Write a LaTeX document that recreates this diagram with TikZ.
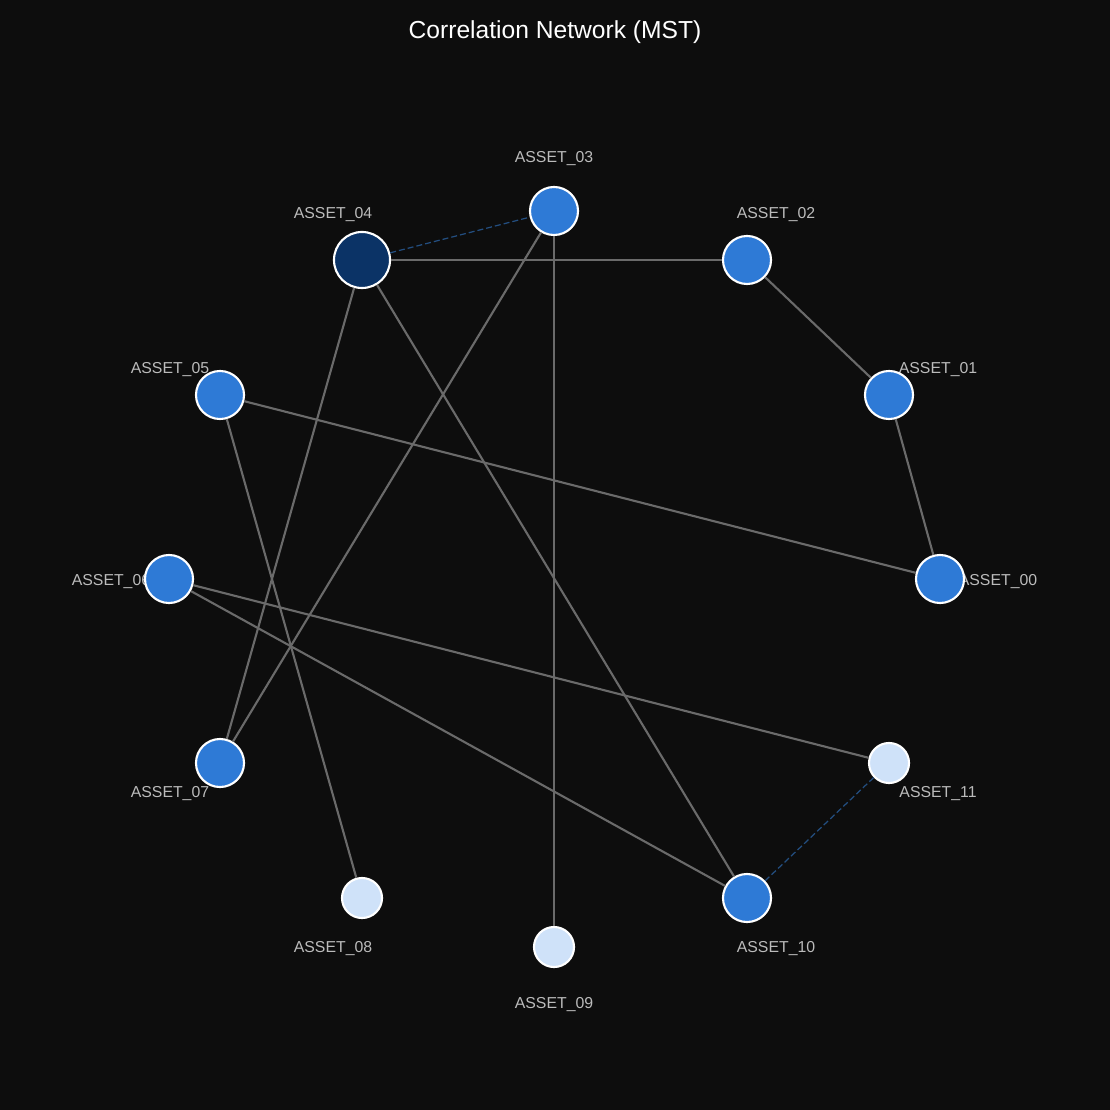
\documentclass[tikz,border=0pt]{standalone}
\usepackage{fontspec}
\setmainfont{Liberation Sans}
\usetikzlibrary{arrows.meta,positioning,calc}
\definecolor{BgBlack}{HTML}{0D0D0D}
\definecolor{AssetBlue}{HTML}{2E7AD6}
\definecolor{AssetNavy}{HTML}{0B3366}
\definecolor{AssetLight}{HTML}{CFE2F9}
\definecolor{EdgeGray}{HTML}{6A6A6A}
\definecolor{EdgeBlue}{HTML}{234E80}
\definecolor{LabelGray}{HTML}{BBBBBB}

\begin{document}
\begin{tikzpicture}[x=0.01cm,y=-0.01cm,
    asset/.style={circle, draw=white, line width=0.6pt, fill=AssetBlue, minimum size=0.48cm, inner sep=0pt},
    hub/.style={asset, fill=AssetNavy, minimum size=0.56cm},
    leaf/.style={asset, fill=AssetLight, minimum size=0.40cm},
    tag/.style={text=LabelGray, font=\fontsize{4.5}{5}\selectfont, inner sep=0pt},
    link/.style={EdgeGray, line width=0.6pt},
    weak/.style={EdgeBlue, line width=0.35pt, dash pattern=on 0.06cm off 0.03cm}]
        \fill[BgBlack] (0,0) rectangle (1110,1110);
        \node[text=white, font=\fontsize{7}{8}\selectfont] (title) at (555,32) {Correlation Network (MST)};
        % labels sit behind the circles
        \node[tag] (t00) at (998,582) {ASSET\_00};
        \node[tag] (t01) at (938,370) {ASSET\_01};
        \node[tag] (t02) at (776,215) {ASSET\_02};
        \node[tag] (t03) at (554,159) {ASSET\_03};
        \node[tag] (t04) at (333,215) {ASSET\_04};
        \node[tag] (t05) at (170,370) {ASSET\_05};
        \node[tag] (t06) at (111,582) {ASSET\_06};
        \node[tag] (t07) at (170,794) {ASSET\_07};
        \node[tag] (t08) at (333,949) {ASSET\_08};
        \node[tag] (t09) at (554,1005) {ASSET\_09};
        \node[tag] (t10) at (776,949) {ASSET\_10};
        \node[tag] (t11) at (938,794) {ASSET\_11};
        % nodes
        \node[asset] (a00) at (940,579) {};
        \node[asset] (a01) at (889,395) {};
        \node[asset] (a02) at (747,260) {};
        \node[asset] (a03) at (554,211) {};
        \node[hub] (a04) at (362,260) {};
        \node[asset] (a05) at (220,395) {};
        \node[asset] (a06) at (169,579) {};
        \node[asset] (a07) at (220,763) {};
        \node[leaf] (a08) at (362,898) {};
        \node[leaf] (a09) at (554,947) {};
        \node[asset] (a10) at (747,898) {};
        \node[leaf] (a11) at (889,763) {};
        % tree edges
        \draw[link] (a04) -- (a02);
        \draw[link] (a02) -- (a01);
        \draw[link] (a01) -- (a00);
        \draw[link] (a05) -- (a00);
        \draw[link] (a04) -- (a07);
        \draw[link] (a03) -- (a07);
        \draw[link] (a03) -- (a09);
        \draw[link] (a04) -- (a10);
        \draw[link] (a05) -- (a08);
        \draw[link] (a06) -- (a11);
        \draw[link] (a06) -- (a10);
        \draw[weak] (a04) -- (a03);
        \draw[weak] (a11) -- (a10);
    \end{tikzpicture}
\end{document}
